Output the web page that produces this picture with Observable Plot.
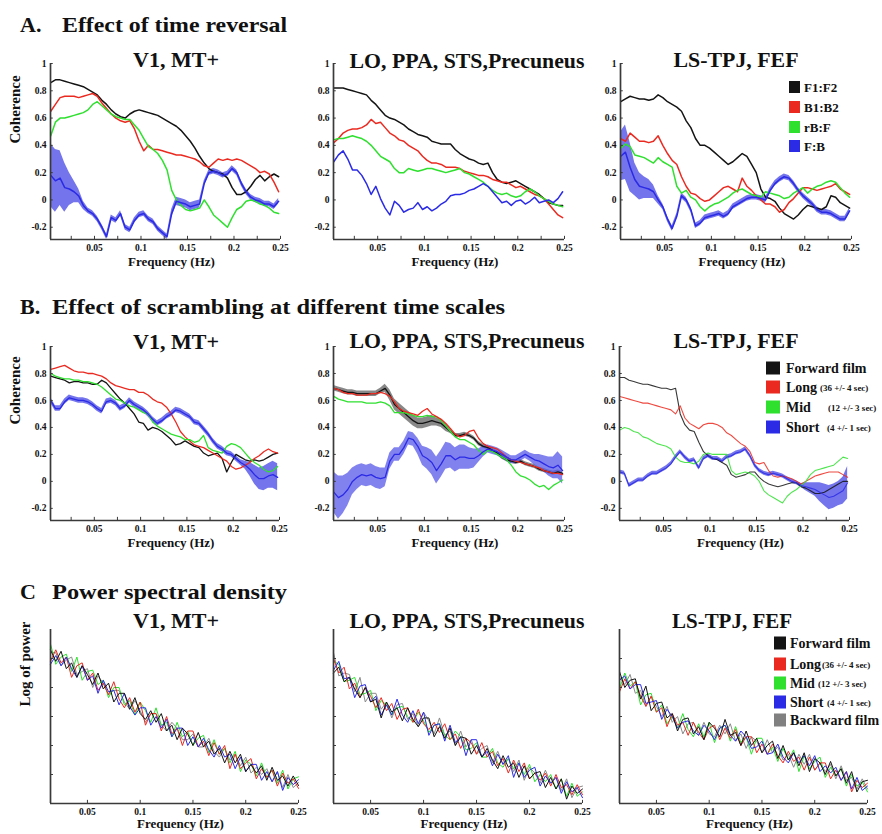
<!DOCTYPE html>
<html><head><meta charset="utf-8">
<script src="https://cdn.jsdelivr.net/npm/d3@7"></script>
<script src="https://cdn.jsdelivr.net/npm/@observablehq/plot@0.6"></script>
<style>
body{margin:0;background:#fff;}
#root{position:relative;width:882px;height:834px;overflow:hidden;background:#fff;font-family:"Liberation Serif","Times New Roman",serif;}
#root svg.panel{position:absolute;}
</style></head>
<body><div id="root"></div>
<script>
// ---------- frequency grids ----------
const freqAB = [0.003,0.008,0.013,0.018,0.023,0.028,0.033,0.038,0.043,0.048,0.053,0.058,0.063,0.068,0.073,0.078,0.083,0.088,0.093,0.098,0.103,0.108,0.113,0.118,0.123,0.128,0.133,0.138,0.143,0.148,0.153,0.158,0.163,0.168,0.173,0.178,0.183,0.188,0.193,0.198,0.203,0.208,0.213,0.218,0.223,0.228,0.233,0.238,0.243,0.248];
const freqC = [0.015,0.02,0.025,0.03,0.035,0.04,0.045,0.05,0.055,0.06,0.065,0.07,0.075,0.08,0.085,0.09,0.095,0.1,0.105,0.11,0.115,0.12,0.125,0.13,0.135,0.14,0.145,0.15,0.155,0.16,0.165,0.17,0.175,0.18,0.185,0.19,0.195,0.2,0.205,0.21,0.215,0.22,0.225,0.23,0.235,0.24,0.245,0.25];
const xTickValues = [0.05,0.1,0.15,0.2,0.25];
const xNotchAB = [0.025,0.05,0.075,0.1,0.125,0.15,0.175,0.2,0.225,0.25];
const yTicksCoh = [-0.2,0,0.2,0.4,0.6,0.8,1];
const yTicksPow = [1,2,3,4,5];

// ---------- A. Effect of time reversal ----------
const A1_F1F2 = [0.86,0.88,0.88,0.87,0.86,0.85,0.84,0.83,0.81,0.79,0.77,0.73,0.70,0.66,0.63,0.61,0.60,0.63,0.65,0.66,0.65,0.64,0.63,0.62,0.60,0.58,0.56,0.54,0.51,0.47,0.43,0.38,0.32,0.27,0.23,0.21,0.20,0.19,0.16,0.09,0.04,0.04,0.06,0.10,0.15,0.18,0.14,0.17,0.19,0.17];
const A1_B1B2 = [0.65,0.70,0.75,0.76,0.76,0.76,0.75,0.76,0.77,0.78,0.76,0.71,0.67,0.63,0.60,0.58,0.57,0.58,0.52,0.43,0.36,0.40,0.37,0.37,0.36,0.35,0.34,0.33,0.33,0.32,0.31,0.30,0.28,0.25,0.24,0.27,0.30,0.29,0.30,0.29,0.30,0.29,0.27,0.25,0.23,0.20,0.21,0.19,0.13,0.06];
const A1_rBF = [0.47,0.57,0.60,0.60,0.61,0.62,0.63,0.64,0.66,0.70,0.72,0.69,0.66,0.63,0.61,0.60,0.59,0.59,0.55,0.51,0.45,0.39,0.37,0.34,0.29,0.22,0.07,0.00,-0.04,-0.07,-0.08,-0.07,-0.06,0.00,-0.05,-0.11,-0.14,-0.17,-0.20,-0.13,-0.07,-0.05,-0.01,0.00,-0.01,-0.03,-0.04,-0.06,-0.09,-0.10];
const A1_FB = [0.18,0.14,0.16,0.09,0.08,0.06,0.03,-0.04,-0.08,-0.10,-0.14,-0.20,-0.27,-0.13,-0.15,-0.10,-0.20,-0.22,-0.15,-0.11,-0.10,-0.14,-0.16,-0.21,-0.24,-0.27,-0.10,-0.01,-0.02,-0.03,-0.05,-0.04,-0.03,0.12,0.20,0.21,0.20,0.18,0.19,0.23,0.20,0.12,0.06,0.02,0.00,-0.01,-0.03,-0.03,-0.05,-0.01];
const A1_FB_err = [0.23,0.23,0.2,0.18,0.12,0.08,0.05,0.03,0.02,0.02,0.02,0.02,0.02,0.02,0.02,0.02,0.02,0.02,0.02,0.02,0.02,0.02,0.02,0.02,0.02,0.02,0.03,0.03,0.03,0.03,0.03,0.03,0.03,0.02,0.02,0.02,0.02,0.02,0.02,0.02,0.02,0.02,0.02,0.02,0.02,0.02,0.02,0.02,0.02,0.02];

const A2_F1F2 = [0.82,0.82,0.82,0.81,0.80,0.79,0.78,0.77,0.73,0.70,0.66,0.62,0.60,0.59,0.57,0.55,0.52,0.50,0.48,0.47,0.46,0.43,0.42,0.41,0.41,0.41,0.37,0.34,0.32,0.30,0.29,0.27,0.26,0.27,0.20,0.15,0.13,0.12,0.13,0.14,0.12,0.10,0.08,0.06,0.04,0.01,-0.02,-0.03,-0.04,-0.04];
const A2_B1B2 = [0.42,0.45,0.49,0.51,0.52,0.52,0.53,0.55,0.59,0.56,0.57,0.53,0.49,0.47,0.44,0.43,0.40,0.38,0.36,0.32,0.29,0.27,0.27,0.26,0.24,0.24,0.24,0.23,0.21,0.20,0.19,0.18,0.18,0.17,0.15,0.14,0.13,0.13,0.11,0.09,0.10,0.08,0.06,0.04,0.03,0.01,-0.03,-0.07,-0.11,-0.13];
const A2_rBF = [0.44,0.45,0.45,0.46,0.47,0.46,0.45,0.43,0.40,0.36,0.32,0.30,0.28,0.23,0.20,0.20,0.23,0.22,0.21,0.22,0.23,0.23,0.22,0.21,0.20,0.21,0.22,0.23,0.20,0.19,0.17,0.15,0.13,0.10,0.07,0.05,0.04,0.05,0.03,0.02,0.03,0.06,0.08,0.06,0.03,0.01,-0.01,-0.03,-0.04,-0.05];
const A2_FB = [0.28,0.33,0.36,0.30,0.22,0.22,0.18,0.12,0.04,0.10,0.01,-0.06,-0.11,-0.01,-0.04,-0.09,-0.07,-0.06,-0.02,-0.07,-0.05,-0.08,-0.06,-0.03,-0.01,0.03,0.04,0.04,0.05,0.07,0.08,0.10,0.12,0.10,0.06,0.02,-0.02,-0.01,-0.04,-0.01,0.00,-0.03,-0.01,0.02,-0.02,-0.01,0.00,-0.02,0.01,0.06];

const A3_F1F2 = [0.72,0.74,0.76,0.75,0.74,0.74,0.73,0.74,0.77,0.75,0.72,0.70,0.68,0.65,0.58,0.53,0.45,0.40,0.40,0.38,0.35,0.32,0.29,0.26,0.28,0.31,0.34,0.32,0.26,0.20,0.08,0.02,0.01,-0.01,-0.06,-0.10,-0.12,-0.14,-0.11,-0.07,-0.04,-0.05,-0.06,-0.07,-0.05,0.03,0.02,-0.02,-0.04,-0.06];
const A3_B1B2 = [0.45,0.43,0.49,0.46,0.43,0.43,0.42,0.43,0.47,0.40,0.34,0.29,0.26,0.17,0.10,0.05,0.04,0.01,-0.01,0.00,0.03,0.06,0.09,0.10,0.08,0.06,0.16,0.10,0.07,0.03,0.00,-0.03,-0.03,-0.05,-0.09,-0.07,-0.02,0.01,0.05,0.09,0.09,0.08,0.07,0.08,0.09,0.10,0.12,0.08,0.06,0.04];
const A3_rBF = [0.38,0.41,0.39,0.33,0.32,0.31,0.29,0.27,0.31,0.28,0.26,0.24,0.10,0.05,0.07,0.02,0.00,-0.05,-0.08,-0.05,-0.03,-0.02,0.00,0.02,0.05,0.07,0.08,0.06,0.04,0.03,0.02,0.06,0.05,0.04,0.03,0.01,0.02,0.05,0.07,0.09,0.05,0.08,0.10,0.11,0.13,0.14,0.13,0.09,0.05,0.02];
const A3_FB = [0.32,0.35,0.24,0.15,0.10,0.09,0.08,0.06,0.00,-0.05,-0.14,-0.21,-0.12,0.03,0.00,-0.07,-0.19,-0.17,-0.13,-0.12,-0.11,-0.10,-0.12,-0.10,-0.05,-0.03,-0.01,0.01,0.02,0.02,0.01,0.00,0.07,0.12,0.15,0.17,0.16,0.12,0.07,0.03,0.00,-0.03,-0.07,-0.09,-0.09,-0.10,-0.12,-0.14,-0.14,-0.08];
const A3_FB_err = [0.18,0.2,0.18,0.12,0.1,0.08,0.07,0.05,0.03,0.02,0.02,0.02,0.02,0.02,0.02,0.02,0.02,0.02,0.02,0.02,0.02,0.02,0.02,0.02,0.02,0.02,0.02,0.02,0.02,0.02,0.02,0.02,0.02,0.02,0.02,0.02,0.02,0.02,0.02,0.02,0.02,0.02,0.02,0.02,0.02,0.02,0.02,0.02,0.02,0.02];

// ---------- B. Effect of scrambling ----------
const B1_forward = [0.78,0.77,0.76,0.75,0.73,0.74,0.74,0.73,0.73,0.72,0.72,0.75,0.73,0.69,0.65,0.61,0.58,0.54,0.50,0.44,0.43,0.38,0.40,0.39,0.37,0.34,0.31,0.27,0.28,0.30,0.28,0.26,0.25,0.21,0.19,0.20,0.21,0.17,0.07,0.14,0.20,0.18,0.16,0.15,0.16,0.15,0.16,0.18,0.20,0.21];
const B1_long = [0.83,0.84,0.85,0.86,0.84,0.82,0.81,0.81,0.80,0.80,0.79,0.78,0.76,0.73,0.71,0.70,0.69,0.68,0.68,0.66,0.66,0.64,0.61,0.59,0.58,0.55,0.50,0.44,0.37,0.33,0.30,0.27,0.26,0.25,0.23,0.21,0.19,0.17,0.15,0.11,0.09,0.10,0.12,0.14,0.17,0.19,0.22,0.24,0.22,0.21];
const B1_mid = [0.80,0.78,0.77,0.76,0.76,0.75,0.75,0.74,0.74,0.73,0.72,0.70,0.67,0.64,0.61,0.60,0.58,0.56,0.55,0.53,0.51,0.50,0.44,0.41,0.39,0.37,0.35,0.34,0.33,0.31,0.31,0.29,0.30,0.34,0.25,0.23,0.22,0.21,0.26,0.28,0.27,0.25,0.21,0.17,0.14,0.12,0.09,0.07,0.08,0.11];
const B1_short = [0.60,0.54,0.54,0.59,0.62,0.61,0.60,0.60,0.59,0.57,0.54,0.52,0.59,0.60,0.58,0.54,0.56,0.60,0.57,0.55,0.53,0.50,0.46,0.43,0.45,0.48,0.50,0.53,0.52,0.50,0.48,0.44,0.43,0.39,0.35,0.30,0.26,0.24,0.21,0.20,0.17,0.14,0.12,0.09,0.05,0.02,0.02,0.04,0.05,0.03];
const B1_short_err = [0.02,0.02,0.02,0.02,0.02,0.02,0.02,0.02,0.02,0.02,0.02,0.02,0.02,0.02,0.02,0.02,0.02,0.02,0.02,0.02,0.02,0.02,0.02,0.02,0.02,0.02,0.02,0.02,0.02,0.02,0.02,0.02,0.02,0.02,0.02,0.02,0.02,0.02,0.02,0.02,0.02,0.02,0.03,0.05,0.07,0.08,0.09,0.09,0.1,0.1];

const B2_forward = [0.69,0.68,0.67,0.66,0.66,0.65,0.65,0.65,0.65,0.65,0.67,0.69,0.64,0.57,0.54,0.51,0.48,0.45,0.43,0.43,0.44,0.45,0.44,0.43,0.40,0.37,0.34,0.34,0.35,0.34,0.32,0.28,0.26,0.25,0.23,0.21,0.18,0.16,0.15,0.14,0.15,0.13,0.12,0.11,0.09,0.08,0.07,0.06,0.07,0.06];
const B2_forward_err = [0.02,0.02,0.02,0.02,0.02,0.02,0.02,0.02,0.02,0.02,0.02,0.03,0.04,0.04,0.04,0.04,0.04,0.04,0.04,0.04,0.04,0.04,0.03,0.03,0.03,0.015,0.015,0.015,0.015,0.015,0.015,0.015,0.015,0.015,0.015,0.015,0.015,0.015,0.015,0.015,0.015,0.015,0.015,0.015,0.015,0.015,0.015,0.015,0.015,0.015];
const B2_long = [0.69,0.68,0.66,0.65,0.65,0.64,0.64,0.64,0.65,0.65,0.66,0.65,0.63,0.59,0.54,0.52,0.51,0.50,0.49,0.52,0.54,0.50,0.48,0.46,0.43,0.39,0.35,0.33,0.34,0.37,0.38,0.32,0.28,0.26,0.25,0.24,0.21,0.18,0.16,0.15,0.14,0.13,0.12,0.11,0.10,0.08,0.07,0.06,0.06,0.05];
const B2_mid = [0.63,0.61,0.60,0.59,0.59,0.59,0.59,0.58,0.58,0.58,0.59,0.58,0.56,0.51,0.51,0.51,0.50,0.49,0.48,0.48,0.49,0.48,0.48,0.45,0.41,0.37,0.33,0.31,0.31,0.29,0.27,0.23,0.20,0.23,0.22,0.20,0.18,0.16,0.12,0.07,0.04,0.03,0.01,-0.02,-0.04,-0.03,-0.06,-0.03,-0.01,0.01];
const B2_short = [-0.08,-0.12,-0.10,-0.06,0.00,0.03,0.05,0.04,0.05,0.03,0.02,0.03,0.15,0.20,0.20,0.25,0.32,0.31,0.26,0.19,0.17,0.14,0.08,0.13,0.19,0.19,0.16,0.18,0.18,0.17,0.17,0.19,0.22,0.24,0.23,0.22,0.20,0.18,0.16,0.16,0.18,0.20,0.18,0.16,0.15,0.13,0.11,0.10,0.12,0.08];
const B2_short_err = [0.15,0.16,0.14,0.12,0.1,0.09,0.08,0.08,0.08,0.08,0.08,0.07,0.06,0.05,0.05,0.05,0.05,0.05,0.06,0.07,0.08,0.09,0.1,0.1,0.1,0.09,0.09,0.09,0.09,0.08,0.07,0.05,0.04,0.03,0.03,0.03,0.03,0.03,0.03,0.03,0.03,0.03,0.03,0.04,0.05,0.06,0.07,0.08,0.1,0.1];

const B3_forward = [0.77,0.77,0.75,0.74,0.73,0.72,0.72,0.71,0.70,0.69,0.69,0.68,0.69,0.50,0.42,0.38,0.37,0.29,0.22,0.19,0.17,0.16,0.14,0.12,0.05,0.03,0.04,0.05,0.07,0.07,0.03,0.00,-0.02,-0.03,-0.04,-0.03,-0.02,-0.01,-0.01,-0.04,-0.05,-0.07,-0.09,-0.09,-0.08,-0.06,-0.04,-0.02,0.00,0.00];
const B3_long = [0.63,0.62,0.61,0.60,0.59,0.58,0.58,0.57,0.56,0.55,0.54,0.53,0.50,0.56,0.47,0.43,0.41,0.39,0.42,0.43,0.43,0.42,0.40,0.36,0.34,0.31,0.28,0.26,0.22,0.14,0.13,0.14,0.08,0.04,0.03,0.04,0.03,0.02,0.00,-0.02,0.00,0.02,0.04,0.05,0.06,0.07,0.07,0.07,0.05,0.03];
const B3_mid = [0.38,0.40,0.39,0.37,0.36,0.33,0.32,0.30,0.28,0.27,0.26,0.24,0.18,0.15,0.14,0.14,0.13,0.15,0.20,0.21,0.20,0.20,0.20,0.20,0.08,0.05,0.06,0.07,0.06,0.04,0.00,-0.07,-0.10,-0.12,-0.14,-0.16,-0.11,-0.08,-0.06,-0.03,0.00,0.05,0.08,0.09,0.10,0.11,0.12,0.15,0.18,0.17];
const B3_short = [0.07,0.06,-0.03,-0.01,0.01,0.01,0.04,0.06,0.06,0.08,0.10,0.13,0.18,0.22,0.18,0.15,0.16,0.10,0.17,0.19,0.17,0.17,0.15,0.18,0.19,0.21,0.22,0.24,0.19,0.12,0.08,0.06,0.05,0.06,0.05,0.04,0.02,0.00,-0.01,-0.03,-0.04,-0.05,-0.06,-0.08,-0.10,-0.12,-0.11,-0.09,-0.07,-0.01];
const B3_short_err = [0.015,0.015,0.015,0.015,0.015,0.015,0.015,0.015,0.015,0.015,0.015,0.015,0.015,0.015,0.015,0.015,0.015,0.015,0.015,0.015,0.015,0.015,0.015,0.015,0.015,0.015,0.015,0.015,0.015,0.015,0.015,0.015,0.015,0.015,0.015,0.015,0.015,0.015,0.015,0.015,0.03,0.04,0.05,0.07,0.08,0.09,0.09,0.09,0.1,0.12];

// ---------- C. Power spectral density (log power, arbitrary units) ----------
const C1_forward = [5.3,4.9,5.25,4.65,4.85,4.35,4.75,4.45,4.1,4.5,3.95,4.15,3.5,3.8,3.8,3.25,3.65,3.1,2.9,3.2,2.8,3.1,2.5,2.7,2.2,2.6,2.4,2.0,2.45,1.95,2.15,1.7,1.9,1.4,1.8,1.4,1.7,1.1,1.35,1.05,1.3,0.8,1.25,0.8,0.95,0.6,0.95,0.62];
const C1_long = [4.9,5.3,4.85,5.05,4.35,4.75,4.85,4.25,4.5,3.9,4.15,3.75,4.2,3.6,3.3,3.65,3.15,3.5,2.7,3.1,3.1,2.5,3.0,2.4,2.6,2.0,2.5,2.5,1.95,2.15,1.65,2.1,1.7,2.0,1.2,1.7,1.2,1.4,1.55,0.85,1.2,0.9,1.15,0.6,1.05,0.7,0.85,0.52];
const C1_mid = [5.5,4.8,5.05,5.15,4.55,5.05,4.25,4.55,4.6,4.1,4.25,3.65,4.0,4.0,3.4,3.55,3.05,3.5,3.2,2.8,3.3,2.7,2.8,2.3,2.8,2.3,2.5,2.0,2.25,2.35,1.75,2.2,1.7,1.9,1.4,1.8,1.1,1.5,1.35,0.95,1.4,0.9,1.15,0.7,1.15,0.5,0.85,0.92];
const C1_short = [4.8,5.1,4.75,5.05,4.65,4.35,4.75,4.25,4.4,3.8,4.25,3.85,3.9,3.4,3.8,3.35,3.05,3.3,3.3,2.7,3.0,2.6,2.9,2.3,2.6,2.6,2.0,2.3,1.95,2.25,1.85,1.6,2.0,1.6,1.7,1.2,1.6,1.1,1.35,1.35,0.8,1.1,0.75,1.1,0.45,0.9,0.65,0.82];
const C1_backward = [5.2,5.2,4.75,4.95,5.05,4.45,4.55,4.65,4.0,4.4,4.15,3.75,3.9,3.9,3.5,3.25,3.55,3.2,2.8,3.1,3.1,2.7,2.5,2.8,2.6,2.2,2.2,2.4,1.95,1.95,2.25,1.8,1.6,1.9,1.5,1.7,1.3,1.6,1.05,1.25,1.0,1.2,0.75,1.1,0.55,1.0,0.55,0.72];

const C2_forward = [4.5,4.7,4.2,4.35,3.95,3.65,4.0,3.5,3.6,2.95,3.5,3.15,3.3,2.85,3.3,2.9,2.65,2.95,2.95,2.3,2.65,2.25,2.6,2.0,2.3,2.25,1.7,2.0,1.6,1.9,1.5,1.2,1.65,1.25,1.4,0.9,1.3,0.85,1.05,1.1,0.55,0.9,0.5,0.85,0.15,0.6,0.35,0.5];
const C2_long = [5.0,4.5,4.7,3.95,4.15,3.65,4.0,3.7,3.3,3.65,3.2,3.45,2.9,3.25,3.3,2.8,3.25,2.75,2.55,2.8,2.45,2.75,2.2,2.4,1.9,2.25,2.1,1.7,2.1,1.6,1.8,1.3,1.55,1.05,1.5,1.1,1.4,0.85,1.05,0.8,1.05,0.6,1.0,0.55,0.65,0.3,0.65,0.3];
const C2_mid = [4.9,4.8,4.2,4.25,4.35,3.75,3.8,3.9,3.2,3.55,3.4,3.05,3.3,3.35,3.0,2.8,3.15,2.85,2.45,2.7,2.75,2.35,2.2,2.5,2.3,1.85,1.9,2.1,1.6,1.6,1.9,1.4,1.25,1.55,1.2,1.4,1.0,1.35,0.75,1.0,0.75,1.0,0.5,0.85,0.25,0.7,0.25,0.4];
const C2_short = [4.6,4.9,4.3,4.35,3.65,4.05,4.1,3.5,3.7,3.05,3.4,3.05,3.6,3.05,2.8,3.2,2.75,3.15,2.35,2.7,2.75,2.15,2.7,2.1,2.3,1.65,2.2,2.2,1.6,1.8,1.3,1.7,1.35,1.65,0.9,1.4,0.9,1.15,1.25,0.6,0.95,0.7,0.9,0.35,0.75,0.4,0.55,0.2];
const C2_backward = [5.2,4.4,4.5,4.45,3.85,4.35,3.5,3.8,3.8,3.25,3.5,2.95,3.4,3.45,2.9,3.1,2.65,3.15,2.85,2.4,2.95,2.35,2.5,2.0,2.5,1.95,2.2,1.7,1.9,2.0,1.4,1.8,1.35,1.55,1.1,1.5,0.8,1.25,1.05,0.7,1.15,0.7,0.9,0.45,0.85,0.2,0.55,0.6];

const C3_forward = [4.55,4.0,4.25,4.3,3.6,4.05,3.2,3.45,3.5,2.95,3.1,2.5,2.9,2.95,2.4,2.65,2.2,2.8,2.6,2.3,2.9,2.35,2.45,2.0,2.5,2.0,2.25,1.75,2.0,2.15,1.55,2.0,1.5,1.75,1.3,1.75,1.1,1.55,1.4,1.0,1.45,0.95,1.2,0.7,1.1,0.4,0.75,0.8];
const C3_long = [3.85,4.3,3.95,4.2,3.7,3.35,3.7,3.15,3.3,2.65,3.1,2.7,2.8,2.35,2.8,2.45,2.2,2.6,2.7,2.2,2.6,2.25,2.55,2.0,2.3,2.3,1.75,2.05,1.7,2.05,1.65,1.4,1.8,1.45,1.6,1.15,1.6,1.15,1.4,1.4,0.85,1.15,0.8,1.1,0.4,0.8,0.55,0.7];
const C3_mid = [3.95,4.5,4.05,4.2,3.4,3.75,3.8,3.15,3.4,2.75,3.0,2.6,3.1,2.55,2.3,2.75,2.3,2.8,2.1,2.6,2.7,2.15,2.65,2.1,2.3,1.7,2.25,2.25,1.7,1.95,1.45,1.9,1.5,1.85,1.1,1.65,1.2,1.45,1.6,0.9,1.25,0.95,1.2,0.6,1.0,0.6,0.75,0.4];
const C3_short = [4.25,4.4,3.95,4.1,4.1,3.45,3.5,3.55,2.9,3.25,3.0,2.6,2.8,2.85,2.5,2.35,2.7,2.5,2.2,2.6,2.7,2.35,2.15,2.5,2.3,1.9,1.95,2.15,1.7,1.75,2.05,1.6,1.4,1.75,1.4,1.65,1.3,1.65,1.1,1.3,1.05,1.25,0.8,1.1,0.5,0.9,0.45,0.6];
const C3_backward = [4.35,4.1,4.45,3.8,3.9,3.35,3.7,3.35,3.0,3.35,2.8,3.0,2.4,2.75,2.8,2.35,2.8,2.4,2.3,2.7,2.4,2.75,2.15,2.4,1.9,2.3,2.15,1.75,2.2,1.75,1.95,1.5,1.7,1.25,1.7,1.35,1.7,1.15,1.4,1.1,1.35,0.85,1.3,0.8,0.9,0.5,0.85,0.5];

// ---------- legends / labels ----------
const legendA = ["F1:F2","B1:B2","rB:F","F:B"];
const legendB = [["Forward film",""],["Long","(36 +/- 4 sec)"],["Mid","(12 +/- 3 sec)"],["Short","(4 +/- 1 sec)"]];
const legendC = [["Forward film",""],["Long","(36 +/- 4 sec)"],["Mid","(12 +/- 3 sec)"],["Short","(4 +/- 1 sec)"],["Backward film",""]];
const regionTitles = ["V1, MT+","LO, PPA, STS,Precuneus","LS-TPJ, FEF"];

// ---------- drawing ----------
const COL = {black:"#141414", red:"#ea2a20", green:"#2fe02f", blue:"#2b2be6", grey:"#8a8a8a"};
const FONT = '"Liberation Serif","Times New Roman",serif';
const root = document.getElementById("root");

function rows(xs, ys) { return xs.map((x, i) => ({x, y: ys[i]})); }

function panel(p) {
  const mL = 50, mR = 14, mT = 12, mB = 40;
  const width = p.right - p.left + mL + mR;
  const height = p.bottom - p.top + mT + mB;
  const marks = [];
  for (const b of (p.bands || [])) {
    const data = p.x.map((x, i) => ({x, lo: b.y[i] - b.e[i], hi: b.y[i] + b.e[i]}));
    marks.push(Plot.areaY(data, {x: "x", y1: "lo", y2: "hi", fill: b.fill, fillOpacity: b.op}));
  }
  for (const s of p.series) {
    marks.push(Plot.line(rows(p.x, s.y), {x: "x", y: "y", stroke: s.color, strokeWidth: p.lw, strokeOpacity: p.so || 1}));
  }
  const y0 = p.yDomain[0], x0 = p.xDomain[0];
  const yr = p.yDomain[1] - p.yDomain[0], xr = p.xDomain[1] - p.xDomain[0];
  // axis lines
  marks.push(Plot.ruleX([x0], {stroke: "#3a3a3a", strokeWidth: 1.7}));
  marks.push(Plot.ruleY([y0], {stroke: "#3a3a3a", strokeWidth: 1.7}));
  // inward notches
  marks.push(Plot.ruleX(p.notches, {x: d => d, y1: y0, y2: y0 + yr * 0.018, stroke: "#3a3a3a", strokeWidth: 1}));
  marks.push(Plot.ruleY(p.yTicks, {y: d => d, x1: x0, x2: x0 + xr * 0.012, stroke: "#3a3a3a", strokeWidth: 1}));
  // tick labels
  marks.push(Plot.axisX(xTickValues, {tickSize: 0, tickPadding: 5, tickFormat: d => String(d), label: null, fontSize: 9.5, fontWeight: "bold"}));
  if (p.yLabels) marks.push(Plot.axisY(p.yTicks, {tickSize: 0, tickPadding: 4, tickFormat: d => String(d), label: null, fontSize: 9.5, fontWeight: "bold"}));
  marks.push(Plot.text(["Frequency (Hz)"], {text: d => d, frameAnchor: "bottom", dy: p.xlabDy, dx: 6, fontSize: 13, fontWeight: "bold"}));
  if (p.ylabel) marks.push(Plot.text([p.ylabel], {text: d => d, frameAnchor: "left", rotate: -90, dx: p.ylabDx, dy: p.ylabDy, fontSize: 15, fontWeight: "bold"}));
  const yScale = {domain: p.yDomain, label: null};
  if (!p.yLabels) yScale.axis = null;
  const svg = Plot.plot({
    width, height, marginLeft: mL, marginRight: mR, marginTop: mT, marginBottom: mB,
    x: {domain: p.xDomain, label: null},
    y: yScale,
    style: {fontFamily: FONT, fontWeight: "bold", fontSize: "9.5px", color: "#111", background: "transparent", overflow: "visible"},
    marks
  });
  svg.classList.add("panel");
  svg.style.left = (p.left - mL) + "px";
  svg.style.top = (p.top - mT) + "px";
  root.append(svg);
}

const domAB = [0.0027, 0.25], cohDom = [-0.29, 1];
const blueBand = "#4646e6";

// Row A
panel({left: 50, right: 280, top: 63, bottom: 239, x: freqAB, xDomain: domAB, yDomain: cohDom, yTicks: yTicksCoh, yLabels: true, notches: xNotchAB, lw: 1.5, xlabDy: 26,
  ylabel: "Coherence", ylabDx: -35, ylabDy: -8,
  bands: [{y: A1_FB, e: A1_FB_err, fill: blueBand, op: 0.75}],
  series: [{y: A1_F1F2, color: COL.black}, {y: A1_B1B2, color: COL.red}, {y: A1_rBF, color: COL.green}, {y: A1_FB, color: COL.blue}]});
panel({left: 333, right: 564, top: 63, bottom: 239, x: freqAB, xDomain: domAB, yDomain: cohDom, yTicks: yTicksCoh, yLabels: true, notches: xNotchAB, lw: 1.5, xlabDy: 26,
  series: [{y: A2_F1F2, color: COL.black}, {y: A2_B1B2, color: COL.red}, {y: A2_rBF, color: COL.green}, {y: A2_FB, color: COL.blue}]});
panel({left: 620, right: 851, top: 63, bottom: 239, x: freqAB, xDomain: domAB, yDomain: cohDom, yTicks: yTicksCoh, yLabels: true, notches: xNotchAB, lw: 1.5, xlabDy: 26,
  bands: [{y: A3_FB, e: A3_FB_err, fill: blueBand, op: 0.75}],
  series: [{y: A3_F1F2, color: COL.black}, {y: A3_B1B2, color: COL.red}, {y: A3_rBF, color: COL.green}, {y: A3_FB, color: COL.blue}]});

// Row B
panel({left: 50, right: 279, top: 346, bottom: 520, x: freqAB, xDomain: domAB, yDomain: cohDom, yTicks: yTicksCoh, yLabels: true, notches: xNotchAB, lw: 1.3, xlabDy: 26,
  ylabel: "Coherence", ylabDx: -35, ylabDy: -9,
  bands: [{y: B1_short, e: B1_short_err, fill: blueBand, op: 0.75}],
  series: [{y: B1_forward, color: COL.black}, {y: B1_long, color: COL.red}, {y: B1_mid, color: COL.green}, {y: B1_short, color: COL.blue}]});
panel({left: 333, right: 564, top: 346, bottom: 520, x: freqAB, xDomain: domAB, yDomain: cohDom, yTicks: yTicksCoh, yLabels: true, notches: xNotchAB, lw: 1.3, xlabDy: 26,
  bands: [{y: B2_forward, e: B2_forward_err, fill: "#555", op: 0.7}, {y: B2_short, e: B2_short_err, fill: "#5858ea", op: 0.75}],
  series: [{y: B2_forward, color: COL.black}, {y: B2_mid, color: COL.green}, {y: B2_long, color: COL.red}, {y: B2_short, color: COL.blue}]});
panel({left: 619, right: 849, top: 346, bottom: 520, x: freqAB, xDomain: domAB, yDomain: cohDom, yTicks: yTicksCoh, yLabels: true, notches: xNotchAB, lw: 1.1, so: 0.85, xlabDy: 26,
  bands: [{y: B3_short, e: B3_short_err, fill: blueBand, op: 0.75}],
  series: [{y: B3_forward, color: COL.black}, {y: B3_long, color: COL.red}, {y: B3_mid, color: COL.green}, {y: B3_short, color: COL.blue}]});

// Row C
const powDom = [0, 6], domC = [0.015, 0.25];
const cSeries = (bk, fw, lg, md, sh) => [{y: bk, color: COL.grey}, {y: md, color: COL.green}, {y: lg, color: COL.red}, {y: sh, color: COL.blue}, {y: fw, color: COL.black}];
panel({left: 50, right: 298, top: 629, bottom: 803, x: freqC, xDomain: domC, yDomain: powDom, yTicks: yTicksPow, yLabels: false, notches: xTickValues, lw: 1, xlabDy: 24,
  ylabel: "Log of power", ylabDx: -25, ylabDy: -10,
  series: cSeries(C1_backward, C1_forward, C1_long, C1_mid, C1_short)});
panel({left: 333, right: 582, top: 629, bottom: 803, x: freqC, xDomain: domC, yDomain: powDom, yTicks: yTicksPow, yLabels: false, notches: xTickValues, lw: 1, xlabDy: 24,
  series: cSeries(C2_backward, C2_forward, C2_long, C2_mid, C2_short)});
panel({left: 619, right: 867, top: 629, bottom: 803, x: freqC, xDomain: domC, yDomain: powDom, yTicks: yTicksPow, yLabels: false, notches: xTickValues, lw: 1, xlabDy: 24,
  series: cSeries(C3_backward, C3_forward, C3_long, C3_mid, C3_short)});

// ---------- overlay texts ----------
const NS = "http://www.w3.org/2000/svg";
const ov = document.createElementNS(NS, "svg");
ov.setAttribute("width", 882); ov.setAttribute("height", 834);
ov.style.cssText = "position:absolute;left:0;top:0;pointer-events:none;";
root.append(ov);
function T(x, y, s, size, o = {}) {
  const t = document.createElementNS(NS, "text");
  t.setAttribute("x", x); t.setAttribute("y", y);
  t.setAttribute("font-family", FONT); t.setAttribute("font-weight", "bold");
  t.setAttribute("font-size", size); t.setAttribute("fill", "#111");
  if (o.anchor) t.setAttribute("text-anchor", o.anchor);
  if (o.len) { t.setAttribute("textLength", o.len); t.setAttribute("lengthAdjust", "spacingAndGlyphs"); }
  t.textContent = s; ov.append(t); return t;
}
function R(x, y, w, h, c) {
  const r = document.createElementNS(NS, "rect");
  r.setAttribute("x", x); r.setAttribute("y", y); r.setAttribute("width", w); r.setAttribute("height", h); r.setAttribute("fill", c);
  ov.append(r);
}
// section titles
T(20, 32, "A.", 22); T(62, 32, "Effect of time reversal", 22, {len: 225});
T(20, 314, "B.", 22); T(52, 314, "Effect of scrambling at different time scales", 22, {len: 453});
T(20, 599, "C", 22); T(52, 599, "Power spectral density", 22, {len: 235});
// region titles
const titlePos = [[[176, 67], [467, 68], [736, 67]], [[176, 349], [467, 348], [736, 348]], [[176, 628], [467, 628], [732, 628]]];
const titleLen = [86, 235, 125];
titlePos.forEach(row => row.forEach(([x, y], j) => T(x, y, regionTitles[j], 20, {anchor: "middle", len: j === 2 && y > 600 ? 120 : titleLen[j]})));
// legend A
const colsA = [COL.black, COL.red, COL.green, COL.blue];
[87, 107, 127, 146].forEach((cy, i) => { R(789, cy - 6, 11, 12, colsA[i]); T(804, cy + 4.5, legendA[i], 13); });
// legend B
const parenXB = [0, 820, 828, 827];
[368, 387, 407, 427].forEach((cy, i) => { R(766, cy - 6.5, 14, 13, colsA[i]); T(786, cy + 5, legendB[i][0], 14); if (legendB[i][1]) T(parenXB[i], cy + 4, legendB[i][1], 9); });
// legend C
const colsC = [COL.black, COL.red, COL.green, COL.blue, "#808080"];
const parenXC = [0, 822, 818, 827, 0];
[643, 664, 683, 702, 720].forEach((cy, i) => { R(774, cy - 6.5, 12, 13, colsC[i]); T(790, cy + 5, legendC[i][0], 14); if (legendC[i][1]) T(parenXC[i], cy + 4, legendC[i][1], 9); });
</script>
</body></html>
